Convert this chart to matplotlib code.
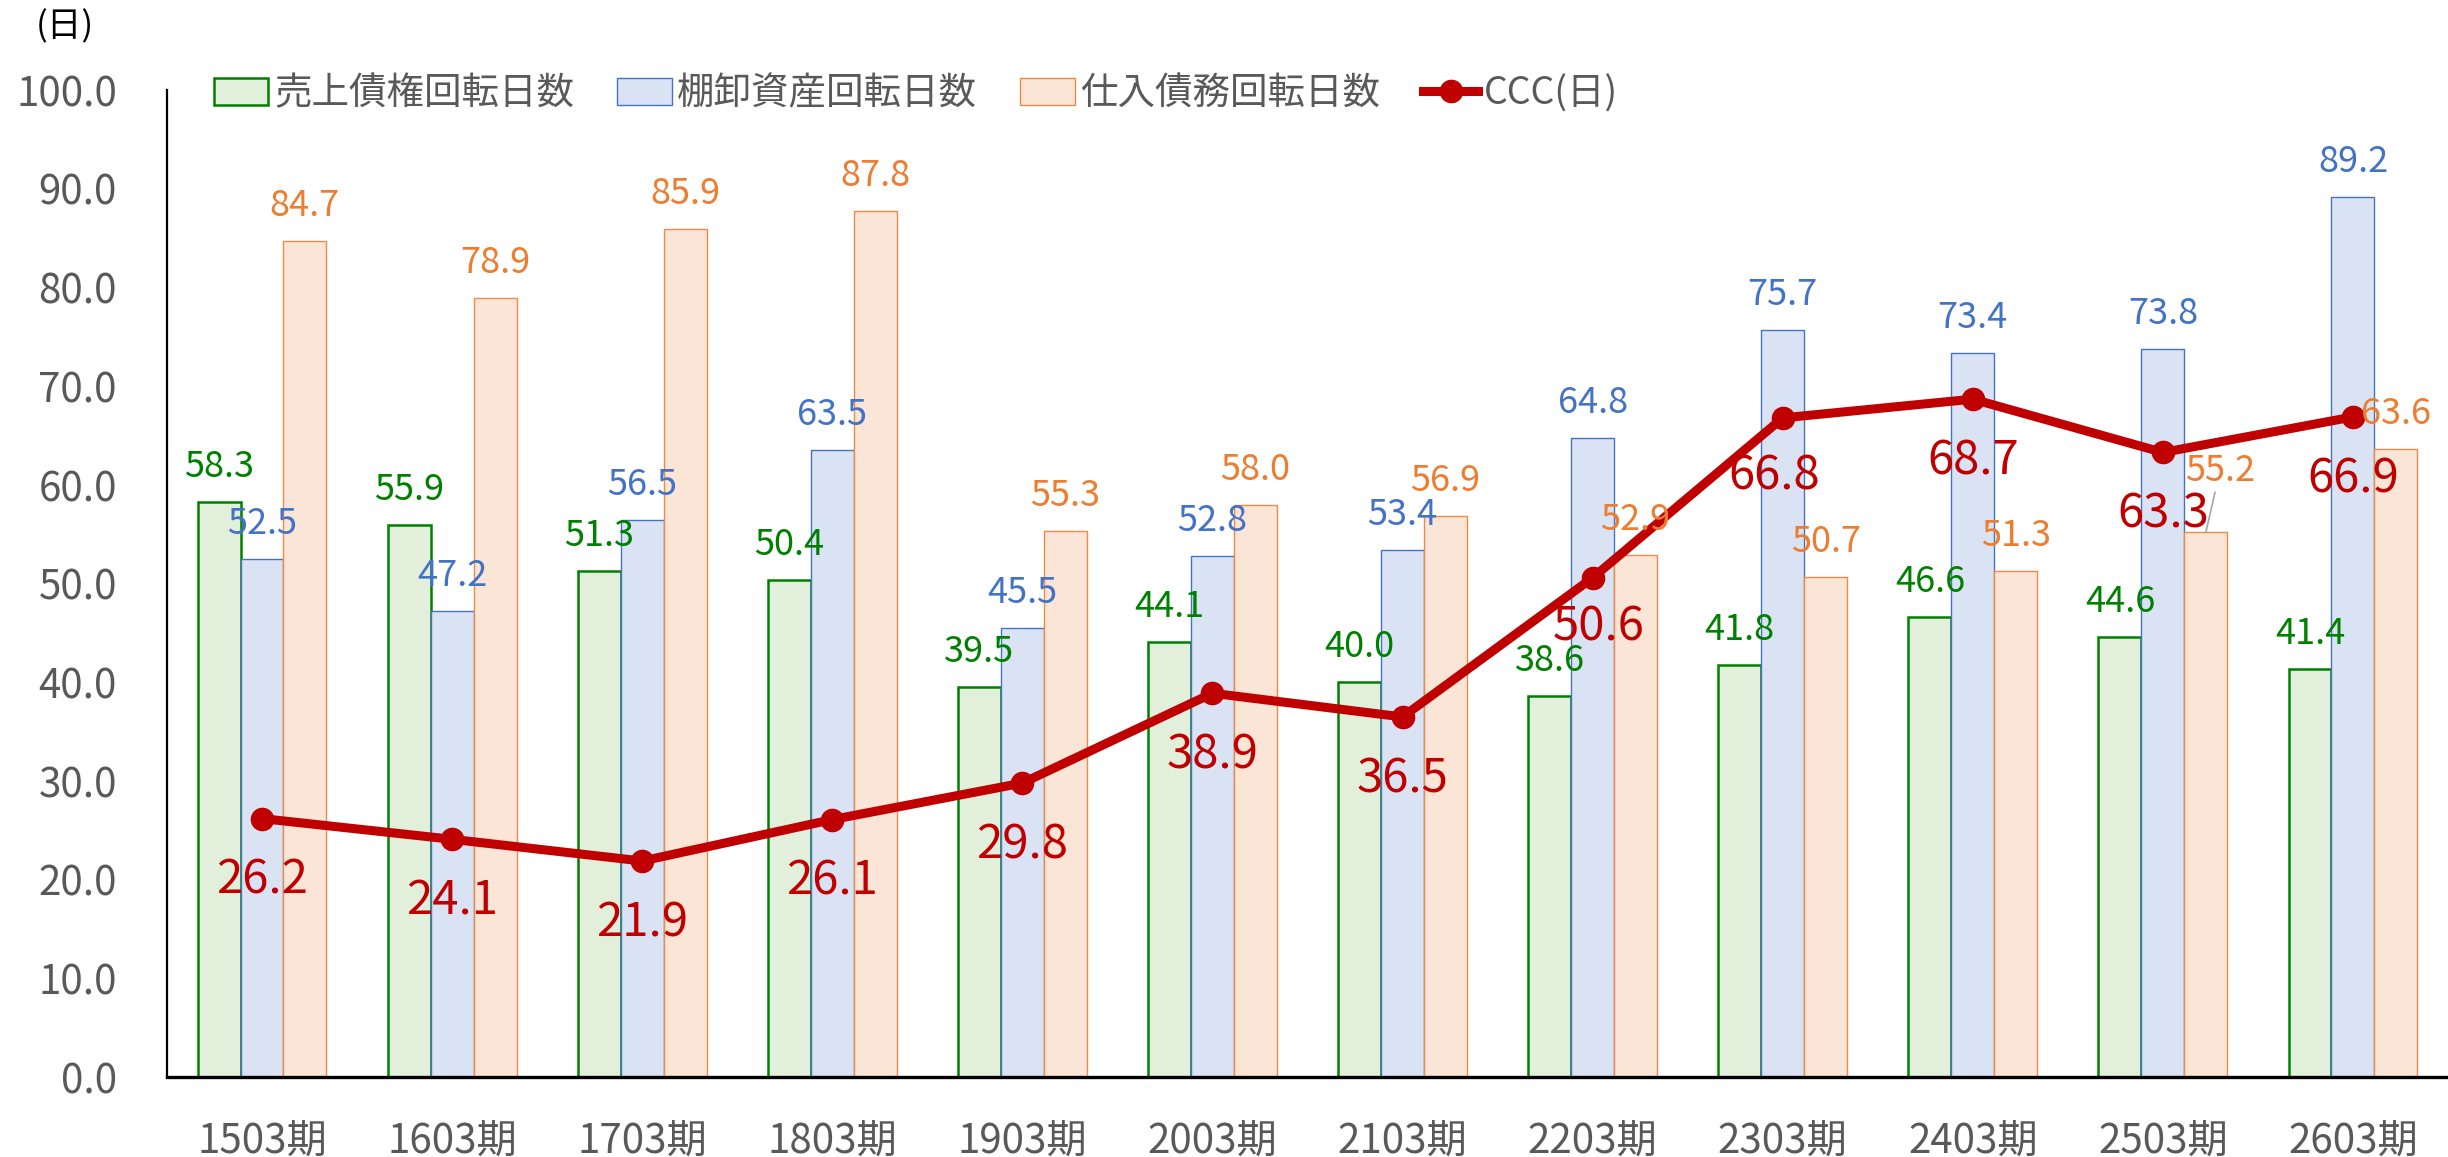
import numpy as np
import matplotlib
matplotlib.use("Agg")
import matplotlib.pyplot as plt

plt.rcParams['font.family'] = ['Noto Sans CJK JP', 'DejaVu Sans']

# data
periods = ["1503期", "1603期", "1703期", "1803期", "1903期", "2003期",
           "2103期", "2203期", "2303期", "2403期", "2503期", "2603期"]
receivable_days = [58.3, 55.9, 51.3, 50.4, 39.5, 44.1, 40.0, 38.6, 41.8, 46.6, 44.6, 41.4]
inventory_days = [52.5, 47.2, 56.5, 63.5, 45.5, 52.8, 53.4, 64.8, 75.7, 73.4, 73.8, 89.2]
payable_days = [84.7, 78.9, 85.9, 87.8, 55.3, 58.0, 56.9, 52.9, 50.7, 51.3, 55.2, 63.6]
ccc_days = [26.2, 24.1, 21.9, 26.1, 29.8, 38.9, 36.5, 50.6, 66.8, 68.7, 63.3, 66.9]

series_names = ["売上債権回転日数", "棚卸資産回転日数", "仕入債務回転日数", "CCC(日)"]

# styles
fills = ["#E2EFDA", "#DAE3F3", "#FBE5D6"]
edges = ["#008000", "#4472C4", "#F08A4B"]
label_colors = ["#008000", "#4472C4", "#ED7D31"]
edge_widths = [1.8, 1.0, 1.0]
ccc_color = "#C00000"
gray = "#595959"

x = np.arange(len(periods))
w = 0.226

fig = plt.figure(figsize=(24.48, 11.57), dpi=100)
ax = fig.add_axes([0.0682, 0.069, 0.9318, 0.853])

bars = []
for k, vals in enumerate([receivable_days, inventory_days, payable_days]):
    b = ax.bar(x + (k - 1) * w, vals, w, color=fills[k], edgecolor=edges[k],
               linewidth=edge_widths[k], label=series_names[k], zorder=2)
    bars.append(b)
    for i, v in enumerate(vals):
        if k == 2 and i == 10:
            # label pulled aside with a leader line
            ax.annotate(f"{v:.1f}", xy=(x[i] + (k - 1) * w, v), xytext=(14, 61),
                        textcoords="offset pixels", ha="center", va="center",
                        fontsize=26, color=label_colors[k], zorder=5,
                        arrowprops=dict(arrowstyle="-", color="#A6A6A6", lw=1.2,
                                        shrinkA=0, shrinkB=0))
            continue
        ax.annotate(f"{v:.1f}", xy=(x[i] + (k - 1) * w, v), xytext=(0, 35),
                    textcoords="offset pixels", ha="center", va="center",
                    fontsize=26, color=label_colors[k], zorder=5)

line, = ax.plot(x, ccc_days, color=ccc_color, lw=6.5, marker="o", markersize=16,
                label=series_names[3], zorder=4)
ccc_offsets = {7: (6, -49), 8: (-9, -58)}
for i, v in enumerate(ccc_days):
    dx, dy = ccc_offsets.get(i, (0, -62))
    ax.annotate(f"{v:.1f}", xy=(x[i], v), xytext=(dx, dy), textcoords="offset pixels",
                ha="center", va="center", fontsize=34, color=ccc_color, zorder=6)

ax.set_xlim(-0.5, len(periods) - 0.5)
ax.set_ylim(0, 100)
ax.set_yticks(np.arange(0, 101, 10))
ax.set_yticklabels([f"{t:.1f}" for t in np.arange(0, 101, 10)])
ax.set_xticks(x)
ax.set_xticklabels(periods)
ax.tick_params(axis="y", length=0, pad=36, labelsize=29, labelcolor=gray)
ax.tick_params(axis="x", length=0, pad=31, labelsize=29, labelcolor=gray)

for s in ["top", "right"]:
    ax.spines[s].set_visible(False)
ax.spines["left"].set_linewidth(1.6)
ax.spines["bottom"].set_linewidth(2.4)
ax.spines["left"].set_color("black")
ax.spines["bottom"].set_color("black")

fig.text(36 / 2448, 1 - 27 / 1157, "(日)", fontsize=25, color="black", va="center", ha="left")

fig.legend(handles=bars + [line], labels=series_names, loc="center left",
           bbox_to_anchor=(214 / 2448, 1 - 94 / 1157), ncol=4, frameon=False,
           fontsize=27, labelcolor=gray, handlelength=1.45, handletextpad=0.15,
           columnspacing=1.15, borderaxespad=0, borderpad=0)

fig.savefig("out.png", dpi=100)
